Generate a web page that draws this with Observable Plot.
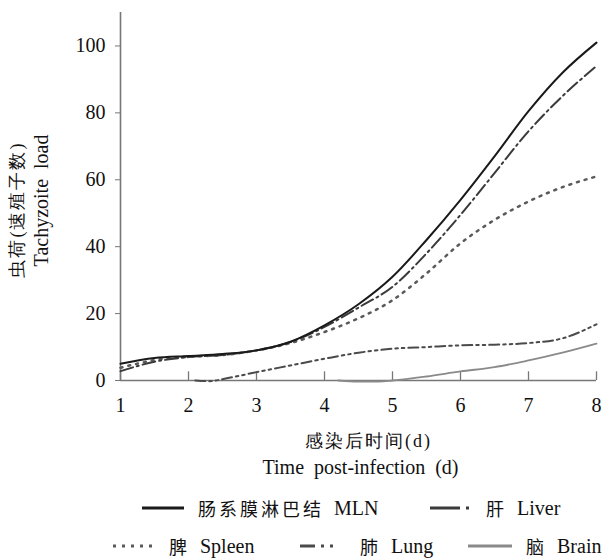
<!DOCTYPE html>
<html>
<head>
<meta charset="utf-8">
<script src="https://cdn.jsdelivr.net/npm/d3@7"></script>
<script src="https://cdn.jsdelivr.net/npm/@observablehq/plot@0.6"></script>
<style>
  body { margin: 0; background: #fff; }
  #wrap { position: relative; width: 603px; height: 560px; font-family: 'Liberation Serif', 'Times New Roman', serif; color: #111; }
  #chart svg, #chart svg text { font-family: 'Liberation Serif', 'Times New Roman', serif; }
  #legend { position: absolute; left: 0; top: 480px; width: 603px; height: 80px; }
  .item { position: absolute; display: flex; align-items: center; height: 24px; white-space: nowrap; }
  .item svg { display: block; }
  .zh { font-family: 'Noto Sans CJK SC', sans-serif; font-size: 18px; letter-spacing: 3px; }
  .en { font-family: 'Liberation Serif', 'Times New Roman', serif; font-size: 20px; margin-left: 10px; }
</style>
</head>
<body>
<div id="wrap"><div id="chart"></div><div id="legend"></div></div>
<script>
// ---- data ----
const xTicks = [1, 2, 3, 4, 5, 6, 7, 8];
const yTicks = [0, 20, 40, 60, 80, 100];

const daysMain = [1, 1.5, 2, 2.5, 3, 3.5, 4, 4.5, 5, 5.5, 6, 6.5, 7, 7.5, 8];
const mln    = [5, 6.7, 7.3, 7.9, 9, 11.6, 16.5, 22.8, 31, 42, 54, 67, 80.5, 92, 101];
const liver  = [2.8, 5.6, 7, 7.6, 9, 11.5, 16, 21.8, 28, 38, 49.5, 62, 74.5, 85, 94];
const spleen = [3.8, 6.1, 7.1, 7.6, 9, 11.2, 14.5, 18.6, 24, 32, 41, 48, 53.5, 57.8, 61];

const daysLung = [2.1, 2.3, 2.6, 3, 3.5, 4, 4.5, 5, 5.5, 6, 6.5, 7, 7.5, 8];
const lung     = [0, -0.2, 0.8, 2.5, 4.5, 6.5, 8.3, 9.5, 10, 10.5, 10.7, 11.2, 12.6, 16.8];

const daysBrain = [4.2, 4.5, 4.8, 5, 5.5, 6, 6.5, 7, 7.5, 8];
const brain     = [0, -0.3, -0.3, 0, 1.2, 2.7, 4, 6, 8.3, 11];

const seriesNames = ["肠系膜淋巴结 MLN", "肝 Liver", "脾 Spleen", "肺 Lung", "脑 Brain"];
const xTitle = ["感染后时间(d)", "Time  post-infection  (d)"];
const yTitle = ["虫荷(速殖子数)", "Tachyzoite  load"];

// ---- build tables ----
const toRows = (xs, ys) => xs.map((x, i) => ({x, y: ys[i]}));
const rowsMLN = toRows(daysMain, mln);
const rowsLiver = toRows(daysMain, liver);
const rowsSpleen = toRows(daysMain, spleen);
const rowsLung = toRows(daysLung, lung);
const rowsBrain = toRows(daysBrain, brain);

const styles = [
  {stroke: "#1a1a1a", strokeWidth: 2, dash: null},
  {stroke: "#3a3a3a", strokeWidth: 2, dash: "13,4,2,4"},
  {stroke: "#5a5a5a", strokeWidth: 2.5, dash: "2,6"},
  {stroke: "#4a4a4a", strokeWidth: 2, dash: "10,4,2.5,4,2.5,4"},
  {stroke: "#8a8a8a", strokeWidth: 1.8, dash: null}
];
const lineOf = (rows, s) => Plot.line(rows, {x: "x", y: "y", curve: "monotone-x", stroke: s.stroke, strokeWidth: s.strokeWidth, strokeDasharray: s.dash});

const FONT = "Liberation Serif, Times New Roman, serif";
const plot = Plot.plot({
  width: 603,
  height: 480,
  marginLeft: 120,
  marginRight: 7,
  marginTop: 12,
  marginBottom: 100,
  style: {fontFamily: FONT, fontSize: "20px", color: "#111", background: "#fff"},
  x: {domain: [1, 8]},
  y: {domain: [0, 110]},
  marks: [
    Plot.ruleY([0], {stroke: "#777", strokeWidth: 1.6}),
    Plot.ruleX([1], {stroke: "#777", strokeWidth: 1.6}),
    Plot.ruleX(xTicks, {x: d => d, y1: 0, y2: 2.6, stroke: "#777", strokeWidth: 1.3}),
    Plot.axisX({ticks: xTicks, tickFormat: "d", tickSize: 0, tickPadding: 17, label: null, fontSize: 20, fontFamily: FONT}),
    Plot.axisY({ticks: yTicks, tickFormat: "d", tickSize: 5, tickPadding: 10, label: null, stroke: "#777", fontSize: 20, fontFamily: FONT}),
    lineOf(rowsBrain, styles[4]),
    lineOf(rowsLung, styles[3]),
    lineOf(rowsSpleen, styles[2]),
    lineOf(rowsLiver, styles[1]),
    lineOf(rowsMLN, styles[0]),
    Plot.text([xTitle[0]], {frameAnchor: "bottom", textAnchor: "middle", lineAnchor: "middle", dy: 61, dx: 10, fontSize: 18, fill: "#111", fontFamily: FONT}),
    Plot.text([xTitle[1]], {frameAnchor: "bottom", textAnchor: "middle", lineAnchor: "middle", dy: 87, dx: 2, fontSize: 20, fill: "#111", fontFamily: FONT}),
    Plot.text([yTitle[0]], {frameAnchor: "left", textAnchor: "middle", lineAnchor: "middle", rotate: -90, dx: -103, dy: 13, fontSize: 18, fill: "#111", fontFamily: FONT}),
    Plot.text([yTitle[1]], {frameAnchor: "left", textAnchor: "middle", lineAnchor: "middle", rotate: -90, dx: -79, dy: 4, fontSize: 20, fill: "#111", fontFamily: FONT})
  ]
});
document.getElementById("chart").appendChild(plot);
// widen CJK title spacing like the reference's full-width glyphs
d3.select(plot).selectAll("text").filter(function() { return this.textContent === xTitle[0] || this.textContent === yTitle[0]; })
  .style("letter-spacing", "2px");

// ---- legend ----
const legendPos = [
  {left: 142, top: 16, w: 42},
  {left: 430, top: 16, w: 42},
  {left: 113, top: 54, w: 42},
  {left: 300, top: 54, w: 46},
  {left: 468, top: 54, w: 44}
];
const legendDash = [null, "30,6,3,10", "3,6", "15,6,3,6,3,20", null];
const legend = document.getElementById("legend");
seriesNames.forEach((name, i) => {
  const p = legendPos[i], s = styles[i];
  const [zh, en] = name.split(" ");
  const div = document.createElement("div");
  div.className = "item";
  div.style.left = p.left + "px";
  div.style.top = p.top + "px";
  const dash = legendDash[i] ? `stroke-dasharray="${legendDash[i]}"` : "";
  div.innerHTML = `<svg width="${p.w + 14}" height="10"><line x1="0" x2="${p.w}" y1="5" y2="5" stroke="${s.stroke}" stroke-width="3" ${dash}/></svg><span class="zh">${zh}</span><span class="en">${en}</span>`;
  legend.appendChild(div);
});
</script>
</body>
</html>
